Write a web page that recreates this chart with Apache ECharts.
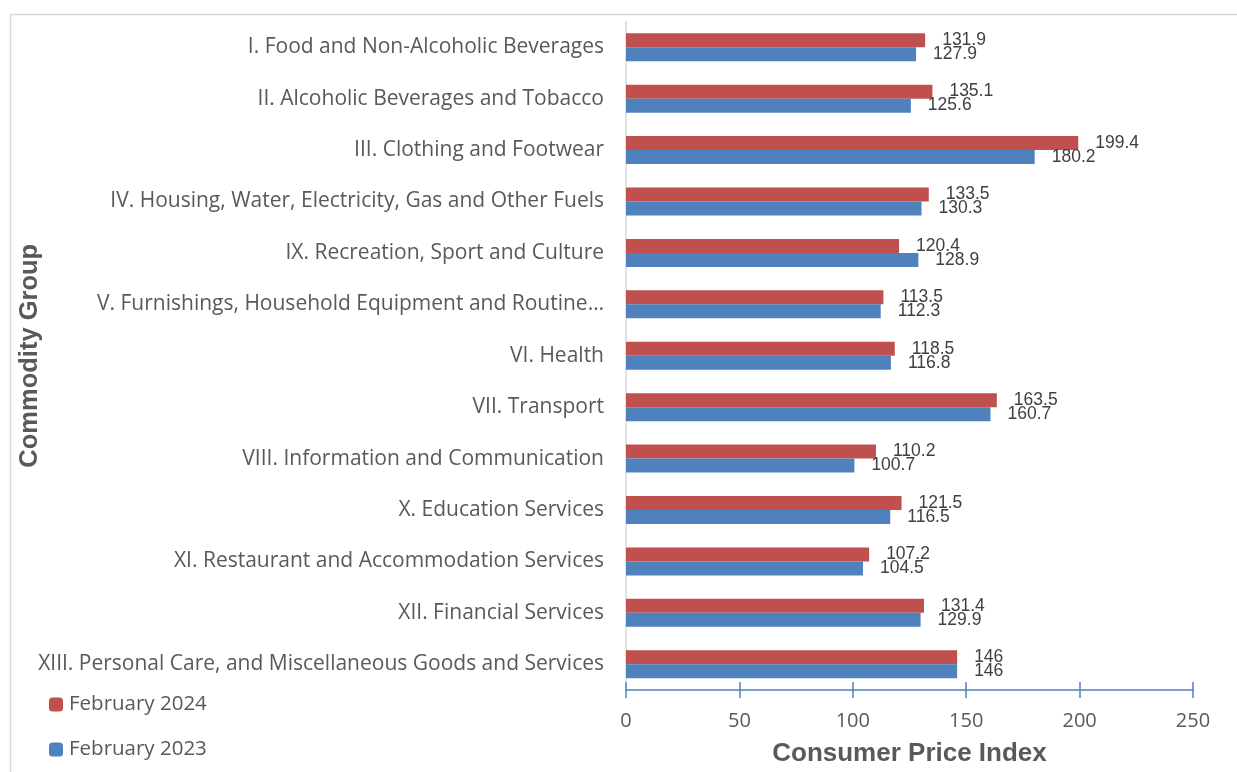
<!DOCTYPE html>
<html>
<head>
<meta charset="utf-8">
<script src="https://cdn.jsdelivr.net/npm/echarts@6/dist/echarts.min.js"></script>
<style>
html,body{margin:0;padding:0;background:#fff;}
#chart{width:1237px;height:772px;}
</style>
</head>
<body>
<div id="chart"></div>
<script>
const categories = [
  "I. Food and Non-Alcoholic Beverages",
  "II. Alcoholic Beverages and Tobacco",
  "III. Clothing and Footwear",
  "IV. Housing, Water, Electricity, Gas and Other Fuels",
  "IX. Recreation, Sport and Culture",
  "V. Furnishings, Household Equipment and Routine…",
  "VI. Health",
  "VII. Transport",
  "VIII. Information and Communication",
  "X. Education Services",
  "XI. Restaurant and Accommodation Services",
  "XII. Financial Services",
  "XIII. Personal Care, and Miscellaneous Goods and Services"
];
const feb2024 = [131.9, 135.1, 199.4, 133.5, 120.4, 113.5, 118.5, 163.5, 110.2, 121.5, 107.2, 131.4, 146];
const feb2023 = [127.9, 125.6, 180.2, 130.3, 128.9, 112.3, 116.8, 160.7, 100.7, 116.5, 104.5, 129.9, 146];
const xTicks = [0, 50, 100, 150, 200, 250];

const chart = echarts.init(document.getElementById('chart'), null, {renderer: 'canvas'});
const labelStyle = {
  show: true, position: 'right', distance: 17,
  fontFamily: 'Liberation Sans, Arial, sans-serif', fontSize: 17.5, color: '#404040'
};
chart.setOption({
  animation: false,
  backgroundColor: '#fff',
  graphic: [{
    type: 'rect', left: 8, top: 12, z: -10,
    shape: {width: 1240, height: 780},
    style: {fill: 'none', stroke: '#d9d9d9', lineWidth: 1.5}
  }],
  legend: {
    orient: 'vertical', left: 49, top: 694, padding: 0,
    itemWidth: 14, itemHeight: 14, itemGap: 24,
    data: ['February 2024', 'February 2023'],
    textStyle: {fontFamily: 'Open Sans, sans-serif', fontSize: 20.5, color: '#595959', padding: [0,0,0,1]}
  },
  grid: {left: 626, width: 567, top: 21.5, height: 670, containLabel: false},
  xAxis: [{
    type: 'value', min: xTicks[0], max: xTicks[xTicks.length-1], interval: 50,
    name: 'Consumer Price Index', nameLocation: 'middle', nameGap: 51,
    nameTextStyle: {fontFamily: 'Liberation Sans, Arial, sans-serif', fontWeight: 'bold', fontSize: 26, color: '#595959'},
    axisLine: {show: true, lineStyle: {color: '#4f81bd', width: 1.5}},
    axisTick: {show: true, length: 8, lineStyle: {color: '#4f81bd', width: 1.5}},
    axisLabel: {margin: 21, fontFamily: 'Open Sans, sans-serif', fontSize: 20, color: '#595959'},
    splitLine: {show: false}
  }, {
    type: 'value', min: xTicks[0], max: xTicks[xTicks.length-1], interval: 50, position: 'bottom',
    axisLine: {show: false},
    axisTick: {show: true, inside: true, length: 8, lineStyle: {color: '#4f81bd', width: 1.5}},
    axisLabel: {show: false}, splitLine: {show: false}
  }],
  yAxis: {
    type: 'category', data: categories, inverse: true,
    name: 'Commodity Group', nameLocation: 'middle', nameGap: 583, nameRotate: 90,
    nameMoveOverlap: false,
    nameTextStyle: {fontFamily: 'Liberation Sans, Arial, sans-serif', fontWeight: 'bold', fontSize: 25.5, color: '#595959'},
    axisLine: {show: true, lineStyle: {color: '#d9d9d9', width: 1.5}},
    axisTick: {show: false},
    axisLabel: {margin: 22, fontFamily: 'Open Sans, sans-serif', fontSize: 21, color: '#595959'}
  },
  series: [{
    name: 'February 2024', type: 'bar', data: feb2024, barWidth: 14, barGap: '0%',
    itemStyle: {color: '#c0504d'}, label: labelStyle
  }, {
    name: 'February 2023', type: 'bar', data: feb2023, barWidth: 14, barGap: '0%',
    itemStyle: {color: '#4f81bd'}, label: labelStyle
  }]
});
</script>
</body>
</html>
